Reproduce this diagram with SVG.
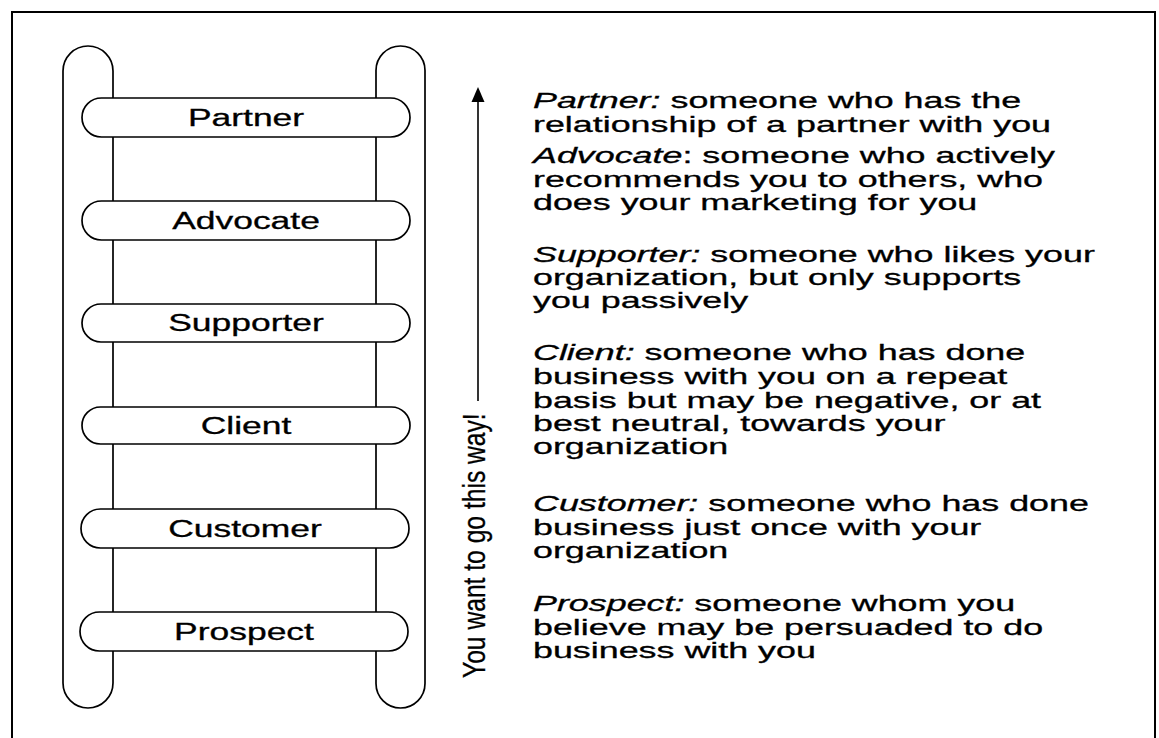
<svg xmlns="http://www.w3.org/2000/svg" width="1159" height="738" viewBox="0 0 1159 738">
<style>
.rail{fill:none;stroke:#000;stroke-width:1.7}
.rung{fill:#fff;stroke:#000;stroke-width:1.7}
.lbl{font-family:"Liberation Sans",Arial,sans-serif;font-size:23px;fill:#000;stroke:#000;stroke-width:0.3;text-anchor:middle}
.desc{font-family:"Liberation Sans",Arial,sans-serif;font-size:22px;fill:#000;stroke:#000;stroke-width:0.3}
.it{font-style:italic}
</style>
<rect width="1159" height="738" fill="#fff"/>
<rect id="frame" x="12" y="12" width="1143" height="760" fill="none" stroke="#000" stroke-width="2"/>
<g id="ladder">
<rect class="rail" x="63" y="46" width="50" height="662" rx="25"/>
<rect class="rail" x="376" y="46" width="49" height="662" rx="24.5"/>
</g>
<g id="rung-partner"><rect class="rung" x="82" y="98" width="328" height="39" rx="19.5"/><g transform="translate(246,0) scale(1.54,1)"><text class="lbl" x="0" y="126">Partner</text></g></g>
<g id="rung-advocate"><rect class="rung" x="82" y="201" width="328" height="39" rx="19.5"/><g transform="translate(246,0) scale(1.54,1)"><text class="lbl" x="0" y="229">Advocate</text></g></g>
<g id="rung-supporter"><rect class="rung" x="82" y="304" width="328" height="38" rx="19"/><g transform="translate(246,0) scale(1.54,1)"><text class="lbl" x="0" y="331.5">Supporter</text></g></g>
<g id="rung-client"><rect class="rung" x="82" y="407" width="328" height="37" rx="18.5"/><g transform="translate(246,0) scale(1.54,1)"><text class="lbl" x="0" y="434">Client</text></g></g>
<g id="rung-customer"><rect class="rung" x="81" y="509" width="328" height="39" rx="19.5"/><g transform="translate(245,0) scale(1.54,1)"><text class="lbl" x="0" y="537">Customer</text></g></g>
<g id="rung-prospect"><rect class="rung" x="80" y="612" width="328" height="39" rx="19.5"/><g transform="translate(244,0) scale(1.54,1)"><text class="lbl" x="0" y="640">Prospect</text></g></g>
<g id="connectors">
<line x1="478" y1="401" x2="478" y2="100" stroke="#000" stroke-width="1.6"/>
<polygon points="478,87 471.5,102 484.5,102" fill="#000"/>
</g>
<g id="direction-label">
<text font-family="'Liberation Sans',Arial,sans-serif" font-size="32" fill="#000" stroke="#000" stroke-width="0.3" transform="translate(485,678) rotate(-90) scale(0.77,1)">You want to go this way!</text>
</g>
<g id="descriptions" transform="translate(533,0) scale(1.63,1)">
<text class="desc" x="0" y="108"><tspan class="it">Partner:</tspan> someone who has the<tspan x="0" y="132">relationship of a partner with you</tspan></text>
<text class="desc" x="0" y="163"><tspan class="it">Advocate</tspan>: someone who actively<tspan x="0" y="187">recommends you to others, who</tspan><tspan x="0" y="210">does your marketing for you</tspan></text>
<text class="desc" x="0" y="262"><tspan class="it">Supporter:</tspan> someone who likes your<tspan x="0" y="285">organization, but only supports</tspan><tspan x="0" y="308">you passively</tspan></text>
<text class="desc" x="0" y="360"><tspan class="it">Client:</tspan> someone who has done<tspan x="0" y="384">business with you on a repeat</tspan><tspan x="0" y="408">basis but may be negative, or at</tspan><tspan x="0" y="431">best neutral, towards your</tspan><tspan x="0" y="454">organization</tspan></text>
<text class="desc" x="0" y="511"><tspan class="it">Customer:</tspan> someone who has done<tspan x="0" y="535">business just once with your</tspan><tspan x="0" y="558">organization</tspan></text>
<text class="desc" x="0" y="611"><tspan class="it">Prospect:</tspan> someone whom you<tspan x="0" y="635">believe may be persuaded to do</tspan><tspan x="0" y="658">business with you</tspan></text>
</g>
</svg>
